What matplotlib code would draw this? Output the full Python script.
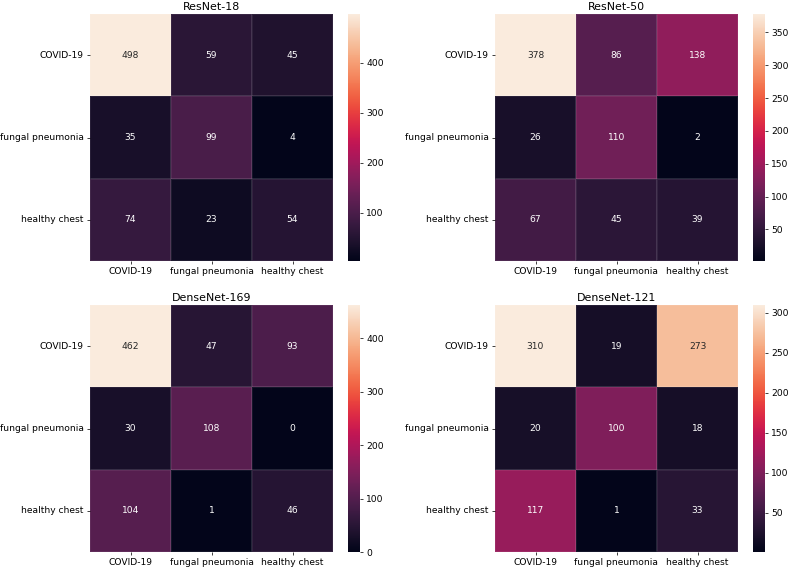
import matplotlib
matplotlib.use('Agg')
import matplotlib.pyplot as plt
import seaborn as sns
import numpy as np

class_labels = ['COVID-19', 'fungal pneumonia', 'healthy chest']

titles = ['ResNet-18', 'ResNet-50', 'DenseNet-169', 'DenseNet-121']

resnet18 = [[498, 59, 45],
            [35, 99, 4],
            [74, 23, 54]]
resnet50 = [[378, 86, 138],
            [26, 110, 2],
            [67, 45, 39]]
densenet169 = [[462, 47, 93],
               [30, 108, 0],
               [104, 1, 46]]
densenet121 = [[310, 19, 273],
               [20, 100, 18],
               [117, 1, 33]]

matrices = [resnet18, resnet50, densenet169, densenet121]

W, H = 789, 569
DPI = 66
fig = plt.figure(figsize=(W / DPI, H / DPI), dpi=DPI)

# pixel boxes (left, top) for each heatmap
lefts = [90, 495, 90, 495]
tops = [14, 14, 305, 305]
hm_w, hm_h = 243, 247

for i in range(4):
    l, t = lefts[i], tops[i]
    ax = fig.add_axes([l / W, (H - t - hm_h) / H, hm_w / W, hm_h / H])
    cax = fig.add_axes([(l + 258) / W, (H - t - hm_h) / H, 12 / W, hm_h / H])
    sns.heatmap(np.array(matrices[i]), annot=True, fmt='d', ax=ax, cbar_ax=cax,
                xticklabels=class_labels, yticklabels=class_labels,
                linewidths=0.4, linecolor=(1, 1, 1, 0.07))
    ax.set_title(titles[i], pad=4)
    ax.tick_params(axis='y', rotation=0)
    ax.tick_params(axis='x', rotation=0)

fig.savefig('out.png', dpi=DPI)
